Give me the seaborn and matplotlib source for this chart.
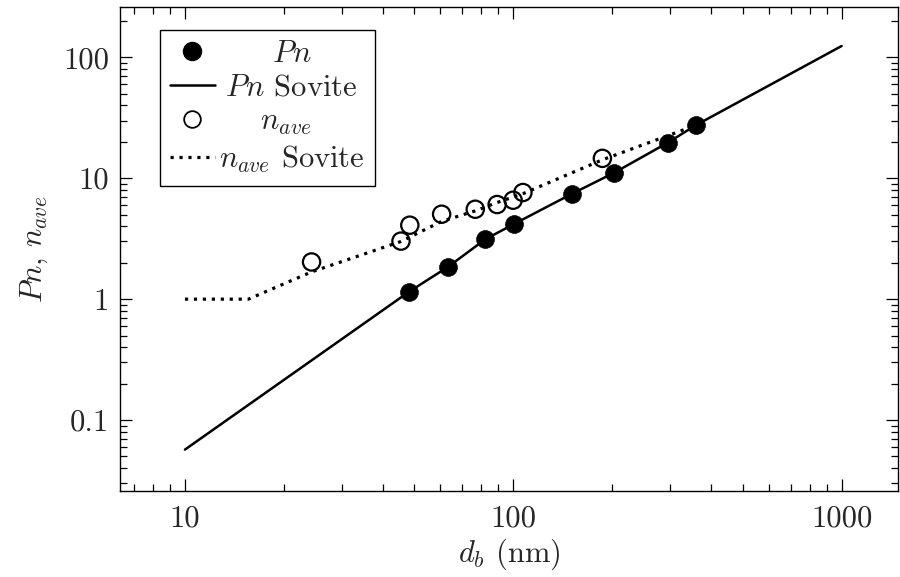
import numpy as np
import pandas as pd
import matplotlib
matplotlib.use("Agg")
import matplotlib.pyplot as plt
import seaborn as sns
from matplotlib.lines import Line2D
from matplotlib.ticker import FixedLocator, FixedFormatter, NullFormatter

# ---- data ----
pn_d = [48.1, 63.3, 82.2, 100.3, 151.4, 202.8, 295.8, 359.4]
pn_val = [1.15, 1.85, 3.13, 4.17, 7.47, 11.1, 19.7, 27.4]

nave_d = [24.3, 45.5, 48.4, 60.5, 76.6, 89.3, 99.9, 107.0, 186.8]
nave_val = [2.03, 3.02, 4.09, 5.04, 5.54, 6.06, 6.58, 7.62, 14.6]

pn_sov_d = [10, 48.1, 63.3, 82.2, 100.3, 151.4, 202.8, 295.8, 359.4, 1000]
pn_sov_val = [0.057, 1.15, 1.85, 3.13, 4.17, 7.47, 11.1, 19.7, 27.4, 124]

nave_sov_d = [10, 15.6, 24.3, 45.5, 60.5, 76.6, 89.3, 107.0, 186.8, 340]
nave_sov_val = [1.0, 1.0, 1.68, 3.0, 4.4, 5.37, 6.3, 7.45, 14.2, 25.9]

x_ticks = [10, 100, 1000]
x_ticklabels = ["10", "100", "1000"]
y_ticks = [0.1, 1, 10, 100]
y_ticklabels = ["0.1", "1", "10", "100"]

# ---- style ----
sns.set_style("ticks")
plt.rcParams["font.family"] = ["cmr10", "DejaVu Serif"]
plt.rcParams["mathtext.fontset"] = "cm"
plt.rcParams["axes.formatter.use_mathtext"] = True
plt.rcParams["axes.unicode_minus"] = False

FS = 22

fig = plt.figure(figsize=(9.0, 5.77), dpi=100)
ax = fig.add_axes([0.1333, 0.149, 0.865, 0.839])
ax.set_xscale("log")
ax.set_yscale("log")

df_pn = pd.DataFrame({"d": pn_d, "v": pn_val})
df_nave = pd.DataFrame({"d": nave_d, "v": nave_val})
df_pn_sov = pd.DataFrame({"d": pn_sov_d, "v": pn_sov_val})
df_nave_sov = pd.DataFrame({"d": nave_sov_d, "v": nave_sov_val})

dots = (0, (1, 1.8))
sns.lineplot(data=df_pn_sov, x="d", y="v", ax=ax, color="black", lw=1.8,
             estimator=None, sort=False, zorder=2)
sns.lineplot(data=df_nave_sov, x="d", y="v", ax=ax, color="black", lw=2.3,
             linestyle=dots, estimator=None, sort=False, zorder=2)
sns.scatterplot(data=df_pn, x="d", y="v", ax=ax, color="black", s=165,
                marker="o", edgecolor="black", linewidth=0.5, zorder=3)
sns.scatterplot(data=df_nave, x="d", y="v", ax=ax, facecolor="none", s=155,
                marker="o", edgecolor="black", linewidth=1.6, zorder=3)

ax.set_xlim(6.34, 1490)
ax.set_ylim(0.0259, 261)

ax.xaxis.set_major_locator(FixedLocator(x_ticks))
ax.xaxis.set_major_formatter(FixedFormatter(x_ticklabels))
ax.yaxis.set_major_locator(FixedLocator(y_ticks))
ax.yaxis.set_major_formatter(FixedFormatter(y_ticklabels))
ax.xaxis.set_minor_locator(FixedLocator(
    [m * 10.0 ** e for e in range(0, 4) for m in range(2, 10)]))
ax.yaxis.set_minor_locator(FixedLocator(
    [m * 10.0 ** e for e in range(-2, 3) for m in range(2, 10)]))
ax.xaxis.set_minor_formatter(NullFormatter())
ax.yaxis.set_minor_formatter(NullFormatter())

ax.tick_params(which="both", direction="in", top=True, right=True,
               color="black", width=0.9)
ax.tick_params(which="major", length=8.5, labelsize=FS, pad=8)
ax.tick_params(which="minor", length=5)
ax.tick_params(axis="x", which="major", pad=10)

for s in ax.spines.values():
    s.set_visible(True)
    s.set_color("black")
    s.set_linewidth(1.0)

ax.set_xlabel(r"$d_b$ (nm)", fontsize=FS, labelpad=3)
ax.set_ylabel(r"$Pn,\, n_{ave}$", fontsize=FS, labelpad=9)

handles = [
    Line2D([], [], marker="o", ls="none", color="black", markersize=13),
    Line2D([], [], color="black", lw=1.8),
    Line2D([], [], marker="o", ls="none", mfc="none", mec="black",
           mew=1.3, markersize=12),
    Line2D([], [], color="black", lw=2.3, ls=dots),
]
labels = [r"$\hspace{2.0}Pn$", r"$\hspace{0.25}Pn$ Sovite",
          r"$\hspace{1.55}n_{ave}$", r"$n_{ave}$ Sovite"]
leg = ax.legend(handles, labels, loc="upper left",
                bbox_to_anchor=(0.0513, 0.9525), borderaxespad=0,
                fontsize=FS, frameon=True, fancybox=False, framealpha=1,
                edgecolor="black", handlelength=1.45, handletextpad=0.16,
                labelspacing=0.22, borderpad=0.34)
leg.get_frame().set_linewidth(1.0)

fig.savefig("out.png", dpi=100)
